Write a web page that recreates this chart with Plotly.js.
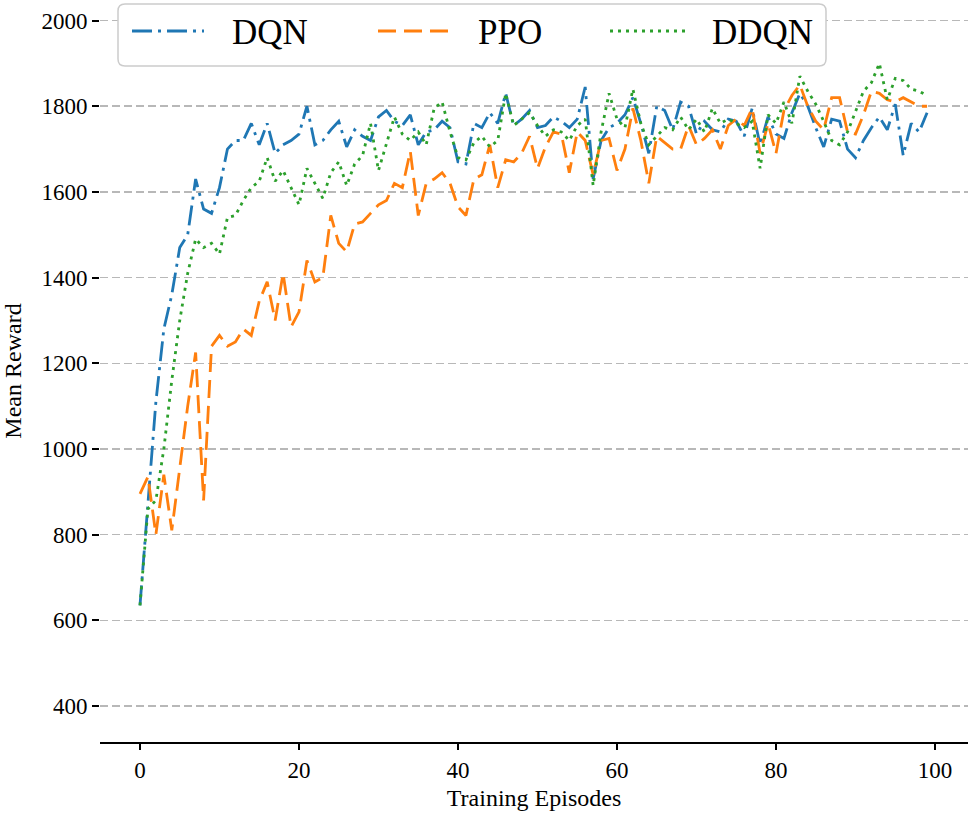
<!DOCTYPE html>
<html>
<head>
<meta charset="utf-8">
<script src="https://cdn.plot.ly/plotly-3.0.1.min.js"></script>
<style>
  html, body { margin: 0; padding: 0; background: #ffffff; }
  #chart { width: 973px; height: 817px; }
</style>
</head>
<body>
<div id="chart"></div>
<script>
// ---- Data ----
const seriesNames = ["DQN", "PPO", "DDQN"];
const seriesColors = ["#1f77b4", "#ff7f0e", "#2ca02c"];

const dqnReward = [
  635, 880, 1110, 1280, 1360, 1470, 1500, 1630, 1560, 1550,
  1610, 1700, 1720, 1720, 1760, 1710, 1760, 1690, 1710, 1720,
  1735, 1800, 1710, 1720, 1745, 1765, 1705, 1745, 1730, 1720,
  1775, 1790, 1765, 1755, 1780, 1710, 1740, 1745, 1765, 1750,
  1670, 1665, 1760, 1750, 1785, 1760, 1830, 1755, 1770, 1790,
  1750, 1755, 1775, 1765, 1750, 1770, 1845, 1630, 1720, 1750,
  1760, 1780, 1820, 1760, 1690, 1800, 1790, 1745, 1810, 1800,
  1735, 1765, 1745, 1740, 1770, 1765, 1730, 1795, 1710, 1775,
  1735, 1725, 1785, 1830, 1800, 1750, 1705, 1770, 1765, 1700,
  1680, 1720, 1750, 1775, 1745, 1805, 1685, 1760, 1740, 1785
];

const ppoReward = [
  895, 935, 800, 940, 810, 960, 1100, 1225, 880, 1240,
  1265, 1240, 1250, 1280, 1265, 1345, 1390, 1300, 1410, 1285,
  1320, 1440, 1390, 1400, 1545, 1480, 1460, 1525, 1530, 1550,
  1570, 1580, 1620, 1610, 1695, 1545, 1620, 1630, 1645, 1620,
  1565, 1545, 1630, 1640, 1710, 1610, 1675, 1670, 1690, 1730,
  1655, 1705, 1740, 1735, 1645, 1740, 1720, 1640, 1720, 1725,
  1650, 1700, 1795, 1720, 1620, 1730, 1715, 1700, 1700, 1755,
  1710, 1725, 1745, 1700, 1755, 1770, 1755, 1795, 1690, 1760,
  1690, 1790, 1825, 1850, 1800, 1765, 1745, 1820, 1820, 1740,
  1735, 1780, 1835, 1830, 1815, 1810, 1820, 1810, 1800, 1800
];

const ddqnReward = [
  635, 860, 880, 1000, 1160, 1300, 1410, 1490, 1470, 1480,
  1455, 1540, 1545, 1580, 1610, 1625, 1680, 1625, 1650, 1610,
  1570, 1655, 1620, 1585, 1645, 1670, 1615, 1665, 1685, 1760,
  1650, 1710, 1775, 1735, 1720, 1740, 1710, 1795, 1810, 1740,
  1680, 1675, 1715, 1730, 1705, 1720, 1830, 1755, 1770, 1785,
  1755, 1730, 1745, 1740, 1720, 1755, 1770, 1615, 1740, 1830,
  1770, 1750, 1840, 1760, 1710, 1730, 1750, 1745, 1775, 1745,
  1770, 1740, 1795, 1760, 1770, 1760, 1750, 1765, 1655, 1780,
  1760, 1810, 1760, 1870, 1835, 1805, 1765, 1720, 1710, 1740,
  1790, 1835, 1855, 1900, 1815, 1865, 1860, 1840, 1835, 1825
];

const xTickValues = [0, 20, 40, 60, 80, 100];
const yTickValues = [400, 600, 800, 1000, 1200, 1400, 1600, 1800, 2000];

// ---- Styles ----
const FONT = "Liberation Serif";
const dashStyles = ["20px,6px,3px,6px", "18px,8px", "3px,5px"];

const allSeries = [dqnReward, ppoReward, ddqnReward];
const traces = allSeries.map((vals, k) => ({
  type: "scatter",
  mode: "lines",
  name: seriesNames[k],
  y: vals,
  x0: 0,
  dx: 1,
  line: { color: seriesColors[k], width: 2.8, dash: dashStyles[k] },
  showlegend: false,
  hoverinfo: "skip"
}));

// ---- Layout geometry (pixels) ----
const W = 973, H = 817;
const M = { l: 100, r: 5, t: 0, b: 75 };
const PW = W - M.l - M.r, PH = H - M.t - M.b;
const px2x = px => (px - M.l) / PW;
const py2y = py => 1 - (py - M.t) / PH;

// Manual legend (box, sample lines, labels)
const box = { x0: 118, x1: 826, y0: 4, y1: 66, r: 7 };
function roundedRectPath(b) {
  const X = px2x, Y = py2y;
  return "M" + X(b.x0 + b.r) + "," + Y(b.y0) +
    " L" + X(b.x1 - b.r) + "," + Y(b.y0) +
    " Q" + X(b.x1) + "," + Y(b.y0) + " " + X(b.x1) + "," + Y(b.y0 + b.r) +
    " L" + X(b.x1) + "," + Y(b.y1 - b.r) +
    " Q" + X(b.x1) + "," + Y(b.y1) + " " + X(b.x1 - b.r) + "," + Y(b.y1) +
    " L" + X(b.x0 + b.r) + "," + Y(b.y1) +
    " Q" + X(b.x0) + "," + Y(b.y1) + " " + X(b.x0) + "," + Y(b.y1 - b.r) +
    " L" + X(b.x0) + "," + Y(b.y0 + b.r) +
    " Q" + X(b.x0) + "," + Y(b.y0) + " " + X(b.x0 + b.r) + "," + Y(b.y0) + " Z";
}
const legendLineX = [[132, 204], [378, 455], [610, 690]];
const legendTextX = [230, 476, 710];
const legendY = 33;

const shapes = [{
  type: "path", xref: "paper", yref: "paper", layer: "above",
  path: roundedRectPath(box),
  fillcolor: "rgba(255,255,255,1)",
  line: { color: "#cccccc", width: 1.5 }
}];
const annotations = [];
seriesNames.forEach((nm, k) => {
  shapes.push({
    type: "line", xref: "paper", yref: "paper", layer: "above",
    x0: px2x(legendLineX[k][0]), x1: px2x(legendLineX[k][1]),
    y0: py2y(legendY - 2), y1: py2y(legendY - 2),
    line: { color: seriesColors[k], width: 2.8, dash: dashStyles[k] }
  });
  annotations.push({
    xref: "paper", yref: "paper",
    x: px2x(legendTextX[k]), y: py2y(legendY),
    xanchor: "left", yanchor: "middle",
    text: nm, showarrow: false,
    font: { family: FONT, size: 35, color: "#000000" }
  });
});

const layout = {
  width: W, height: H,
  margin: M,
  paper_bgcolor: "#ffffff",
  plot_bgcolor: "#ffffff",
  font: { family: FONT, size: 22, color: "#000000" },
  showlegend: false,
  xaxis: {
    range: [-5.03, 104.15],
    tickvals: xTickValues,
    ticktext: xTickValues.map(String),
    showgrid: false, zeroline: false,
    showline: true, linecolor: "#000000", linewidth: 2,
    ticks: "outside", ticklen: 6, tickwidth: 1.5, tickcolor: "#000000",
    tickfont: { family: FONT, size: 23, color: "#000000" },
    title: { text: "Training Episodes", font: { family: FONT, size: 24, color: "#000000" }, standoff: 8 }
  },
  yaxis: {
    range: [316, 2048],
    tickvals: yTickValues,
    ticktext: yTickValues.map(String),
    showgrid: true, gridcolor: "#b8b8b8", gridwidth: 1.5, griddash: "8px,4px",
    zeroline: false, showline: false,
    ticks: "outside", ticklen: 7, tickwidth: 2, tickcolor: "#000000",
    tickfont: { family: FONT, size: 23, color: "#000000" },
    title: { text: "Mean Reward", font: { family: FONT, size: 24, color: "#000000" }, standoff: 14 }
  },
  shapes: shapes,
  annotations: annotations
};

Plotly.newPlot("chart", traces, layout, { displayModeBar: false, staticPlot: true });
</script>
</body>
</html>
